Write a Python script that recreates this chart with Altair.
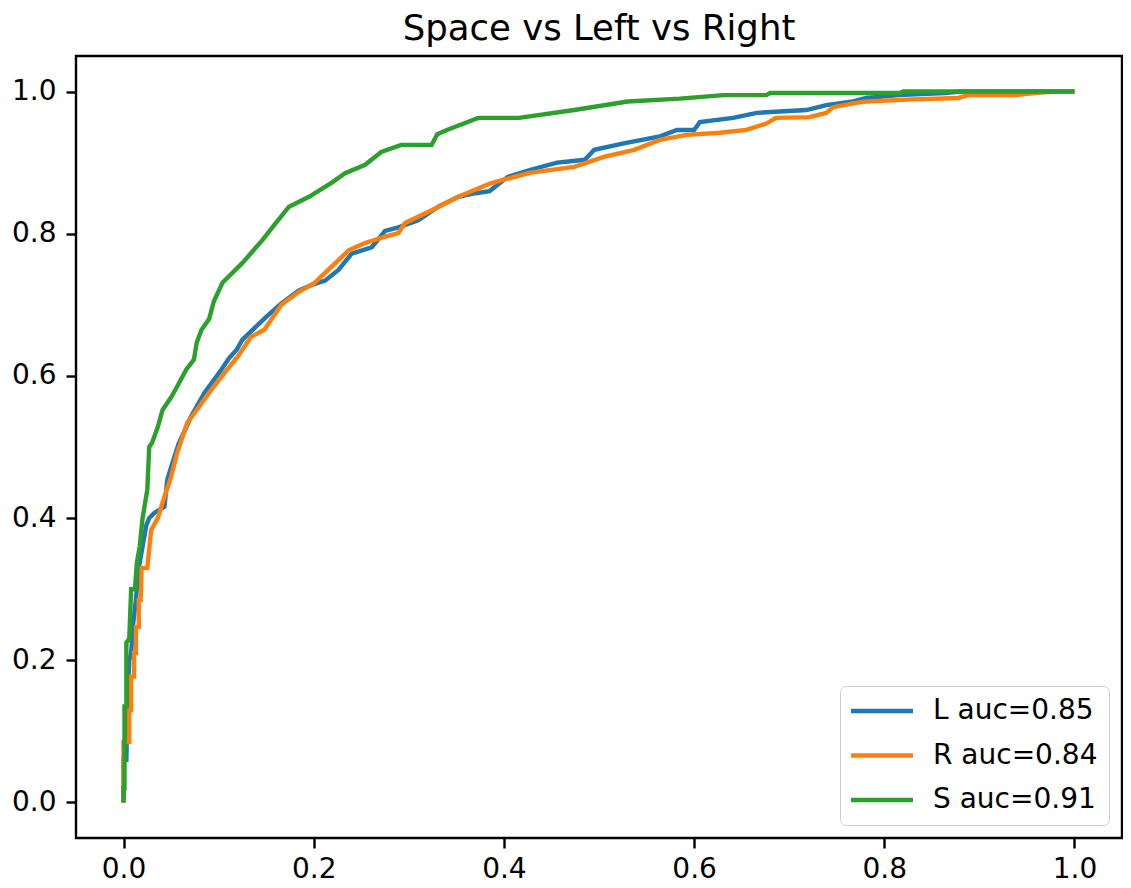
import altair as alt
import pandas as pd

labels = ["L auc=0.85", "R auc=0.84", "S auc=0.91"]
colors = ["#1f77b4", "#ff7f0e", "#2ca02c"]

L_fpr = [0.000, 0.000, 0.003, 0.004, 0.006, 0.008, 0.010, 0.013, 0.016, 0.020, 0.024, 0.027, 0.032, 0.043,
         0.046, 0.052, 0.058, 0.065, 0.071, 0.085, 0.103, 0.111, 0.119, 0.125, 0.150, 0.166, 0.184, 0.198,
         0.212, 0.226, 0.240, 0.261, 0.275, 0.289, 0.310, 0.331, 0.352, 0.370, 0.385, 0.404, 0.428, 0.456,
         0.485, 0.495, 0.526, 0.564, 0.582, 0.600, 0.606, 0.641, 0.666, 0.718, 0.739, 0.767, 0.781, 0.815,
         0.864, 0.880, 1.000]
L_tpr = [0.000, 0.060, 0.060, 0.140, 0.200, 0.210, 0.250, 0.285, 0.330, 0.360, 0.390, 0.400, 0.407, 0.416,
         0.454, 0.480, 0.505, 0.525, 0.543, 0.576, 0.609, 0.625, 0.637, 0.651, 0.683, 0.702, 0.720, 0.728,
         0.734, 0.749, 0.772, 0.781, 0.804, 0.809, 0.819, 0.838, 0.852, 0.857, 0.860, 0.880, 0.890, 0.900,
         0.904, 0.918, 0.927, 0.937, 0.946, 0.946, 0.957, 0.963, 0.970, 0.974, 0.981, 0.986, 0.991, 0.995,
         0.998, 1.000, 1.000]

R_fpr = [0.000, 0.000, 0.006, 0.006, 0.008, 0.008, 0.011, 0.011, 0.013, 0.013, 0.016, 0.016, 0.018, 0.019,
         0.025, 0.029, 0.036, 0.043, 0.050, 0.056, 0.061, 0.067, 0.077, 0.092, 0.106, 0.120, 0.134, 0.148,
         0.166, 0.184, 0.200, 0.223, 0.237, 0.254, 0.275, 0.289, 0.296, 0.324, 0.352, 0.386, 0.428, 0.474,
         0.505, 0.537, 0.564, 0.592, 0.627, 0.655, 0.676, 0.686, 0.721, 0.739, 0.746, 0.770, 0.781, 0.830,
         0.878, 0.888, 0.938, 0.958, 0.980, 1.000]
R_tpr = [0.000, 0.085, 0.085, 0.130, 0.130, 0.177, 0.177, 0.210, 0.210, 0.247, 0.247, 0.285, 0.285, 0.330,
         0.330, 0.383, 0.400, 0.430, 0.458, 0.490, 0.510, 0.534, 0.552, 0.580, 0.604, 0.627, 0.655, 0.665,
         0.700, 0.718, 0.730, 0.759, 0.777, 0.787, 0.796, 0.801, 0.815, 0.833, 0.852, 0.871, 0.886, 0.894,
         0.908, 0.918, 0.932, 0.939, 0.942, 0.946, 0.955, 0.963, 0.964, 0.970, 0.978, 0.984, 0.986, 0.989,
         0.991, 0.995, 0.995, 0.998, 1.000, 1.000]

S_fpr = [0.000, 0.000, 0.001, 0.001, 0.003, 0.003, 0.006, 0.008, 0.012, 0.014, 0.017, 0.020, 0.025, 0.027,
         0.030, 0.036, 0.041, 0.050, 0.056, 0.066, 0.074, 0.077, 0.082, 0.090, 0.095, 0.104, 0.125, 0.146,
         0.160, 0.174, 0.195, 0.219, 0.233, 0.254, 0.271, 0.292, 0.324, 0.330, 0.340, 0.373, 0.416, 0.474,
         0.530, 0.585, 0.631, 0.676, 0.680, 0.816, 0.820, 1.000]
S_tpr = [0.000, 0.020, 0.020, 0.135, 0.135, 0.225, 0.230, 0.300, 0.300, 0.337, 0.360, 0.400, 0.440, 0.500,
         0.506, 0.528, 0.552, 0.570, 0.584, 0.609, 0.623, 0.647, 0.665, 0.680, 0.705, 0.731, 0.759, 0.791,
         0.815, 0.838, 0.852, 0.872, 0.885, 0.897, 0.915, 0.925, 0.925, 0.940, 0.946, 0.963, 0.963, 0.974,
         0.986, 0.990, 0.995, 0.995, 0.998, 0.998, 1.000, 1.000]

series = [(labels[0], L_fpr, L_tpr), (labels[1], R_fpr, R_tpr), (labels[2], S_fpr, S_tpr)]
frames = []
for name, fx, fy in series:
    frames.append(pd.DataFrame({"series": name, "fpr": fx, "tpr": fy, "idx": range(len(fx))}))
df = pd.concat(frames, ignore_index=True)

ticks = [0.0, 0.2, 0.4, 0.6, 0.8, 1.0]
FONT = "DejaVu Sans"

xenc = alt.X("fpr:Q", scale=alt.Scale(domain=[-0.05, 1.05], nice=False, zero=False),
             axis=alt.Axis(values=ticks, format=".1f", title=None, grid=False, domain=False,
                           labelPadding=7))
yenc = alt.Y("tpr:Q", scale=alt.Scale(domain=[-0.05, 1.05], nice=False, zero=False),
             axis=alt.Axis(values=ticks, format=".1f", title=None, grid=False, domain=False,
                           labelPadding=10))
cenc = alt.Color("series:N",
                 scale=alt.Scale(domain=labels, range=colors),
                 legend=alt.Legend(title=None, orient="bottom-right", offset=13,
                                   symbolType="M-4,0H4", symbolSize=240, symbolStrokeWidth=4.4,
                                   symbolOffset=17, labelOffset=37, labelFontSize=28, labelFont=FONT,
                                   labelColor="black", labelLimit=400, rowPadding=16.5, padding=11,
                                   strokeColor="#cccccc", fillColor="rgba(255,255,255,0.8)",
                                   cornerRadius=6))

layers = []
for name in labels:
    layers.append(
        alt.Chart(df).transform_filter(alt.datum.series == name)
        .mark_line(strokeWidth=4.4, clip=True)
        .encode(x=xenc, y=yenc, color=cenc, order=alt.Order("idx:Q"))
    )

chart = alt.layer(*layers).properties(
    width=1046, height=782,
    title=alt.TitleParams("Space vs Left vs Right", fontSize=35.5, font=FONT, fontWeight="normal",
                          anchor="middle", frame="group", offset=-19, baseline="alphabetic", color="black"),
    autosize=alt.AutoSizeParams(type="none"),
    padding={"left": 68, "top": 48, "right": 1, "bottom": 50},
).configure_view(stroke="black", strokeWidth=2.4).configure_axis(
    labelFont=FONT, labelFontSize=28, labelColor="black", tickColor="black",
    tickSize=10, tickWidth=2.4
)

chart.save("out.html", embed_options={"renderer": "svg", "actions": False})
